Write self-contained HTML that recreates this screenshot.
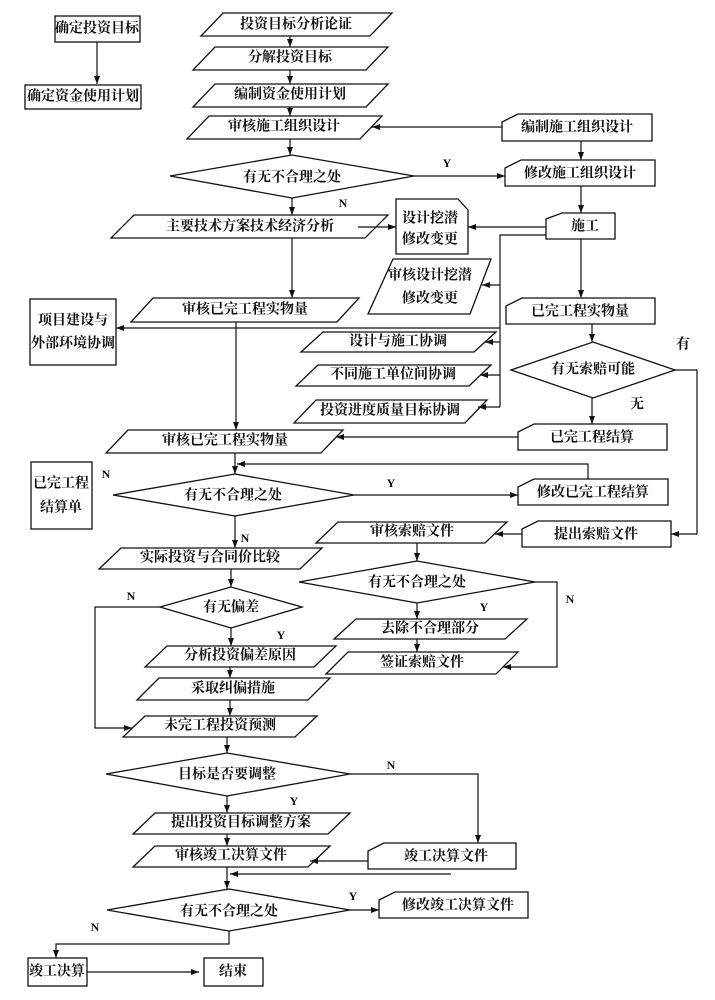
<!DOCTYPE html>
<html><head><meta charset="utf-8"><style>
html,body{margin:0;padding:0;background:#fff;}
svg{display:block;}
text{font-family:"Liberation Serif","Noto Serif CJK SC",serif;font-size:14px;font-weight:bold;fill:#111;}
.l{font-size:12px;}
</style></head><body>
<svg width="715" height="1000" viewBox="0 0 715 1000" xmlns="http://www.w3.org/2000/svg">
<defs><marker id="a" markerWidth="8" markerHeight="6" refX="8" refY="3" orient="auto" markerUnits="userSpaceOnUse"><path d="M0,0 L8,3 L0,6 Z" fill="#111"/></marker></defs>
<g fill="none" stroke="#111" stroke-width="1.3">
<!-- rects -->
<rect x="55" y="16" width="85" height="26"/>
<rect x="25" y="85" width="116" height="24"/>
<rect x="30" y="299" width="86" height="66"/>
<rect x="31" y="462" width="61" height="67"/>
<rect x="28" y="958" width="59" height="28"/>
<rect x="204" y="958" width="59" height="28"/>
<!-- parallelograms -->
<polygon points="223,13 392,13 370,36 201,36"/>
<polygon points="215,47 388,47 366,70 193,70"/>
<polygon points="215,84 388,84 366,107 193,107"/>
<polygon points="209,116 382,116 360,139 187,139"/>
<polygon points="134,215 388,215 365,238 111,238"/>
<polygon points="393,259 491,259 470,314 368,314"/>
<polygon points="153,298 359,298 337,322 131,322"/>
<polygon points="323,332 496,332 474,352 301,352"/>
<polygon points="318,365 491,365 469,386 296,386"/>
<polygon points="316,400 487,400 465,423 294,423"/>
<polygon points="128,430 343,430 321,453 106,453"/>
<polygon points="338,522 507,522 485,543 316,543"/>
<polygon points="121,548 322,548 300,569 99,569"/>
<polygon points="356,619 527,619 505,639 334,639"/>
<polygon points="348,652 518,652 496,674 326,674"/>
<polygon points="167,646 336,646 314,667 145,667"/>
<polygon points="159,678 330,678 308,700 137,700"/>
<polygon points="145,716 317,716 295,737 123,737"/>
<polygon points="155,813 350,813 328,834 133,834"/>
<polygon points="155,846 330,846 308,867 133,867"/>
<!-- cards -->
<path d="M518,114 H652 V141 H502 V122 Z"/>
<path d="M521,160 H655 V186 H505 V168 Z"/>
<path d="M562,213 H615 V239 H546 V219 Z"/>
<path d="M522,298 H655 V324 H506 V306 Z"/>
<path d="M534,424 H667 V450 H518 V432 Z"/>
<path d="M534,479 H668 V505 H518 V487 Z"/>
<path d="M538,521 H671 V547 H522 V529 Z"/>
<path d="M384,843 H516 V869 H368 V851 Z"/>
<path d="M395,892 H528 V918 H379 V900 Z"/>
<path d="M396,199 H458 L468,210 V254 H396 Z"/>
<!-- diamonds -->
<polygon points="170,176 292,155 414,176 292,198"/>
<polygon points="511,370 593,342 675,370 593,398"/>
<polygon points="113,495 235,474 354,495 235,516"/>
<polygon points="299,582 417,561 535,582 417,603"/>
<polygon points="160,607 231,587 302,607 231,628"/>
<polygon points="106,774 227,753 350,774 227,796"/>
<polygon points="107,910 229,889 350,910 229,931"/>
</g>
<g fill="none" stroke="#111" stroke-width="1.2" marker-end="url(#a)">
<path d="M97,42 V84"/>
<path d="M290,36 V47"/><path d="M290,70 V84"/><path d="M290,107 V116"/><path d="M290,139 V155"/>
<path d="M502,127 H372"/>
<path d="M581,141 V160"/>
<path d="M414,176 H505"/>
<path d="M581,186 V213"/>
<path d="M292,198 V215"/>
<path d="M358,227 H396"/>
<path d="M546,227 H468"/>
<path d="M292,238 V298"/>
<path d="M500,285 H482"/>
<path d="M500,342 H485"/>
<path d="M500,375 H480"/>
<path d="M500,407 H478"/>
<path d="M500,328 H116"/>
<path d="M236,322 V430"/>
<path d="M581,239 V298"/>
<path d="M592,324 V342"/>
<path d="M675,370 H697 V534 H671"/>
<path d="M592,398 V424"/>
<path d="M518,437 H336"/>
<path d="M235,453 V474"/>
<path d="M588,479 V464 H237"/>
<path d="M354,495 H518"/>
<path d="M235,516 V548"/>
<path d="M522,534 H495"/>
<path d="M417,543 V561"/>
<path d="M535,582 H557 V667 H503"/>
<path d="M417,603 V619"/><path d="M417,639 V652"/>
<path d="M231,569 V587"/>
<path d="M160,607 H95 V728 H132"/>
<path d="M231,628 V646"/><path d="M230,667 V678"/><path d="M230,700 V716"/>
<path d="M227,737 V753"/><path d="M227,796 V813"/><path d="M227,834 V846"/><path d="M227,867 V889"/>
<path d="M350,774 H478 V843"/>
<path d="M368,861 H310"/>
<path d="M451,874 H230"/>
<path d="M350,910 H379"/>
<path d="M229,931 V944 H56 V958"/>
<path d="M87,972 H199"/>
</g>
<path d="M546,235 H500 V407" fill="none" stroke="#111" stroke-width="1.2"/>
<g text-anchor="middle" dominant-baseline="central">
<text x="97" y="29">确定投资目标</text>
<text x="83" y="97">确定资金使用计划</text>
<text x="73" y="321">项目建设与</text>
<text x="73" y="344">外部环境协调</text>
<text x="61" y="484">已完工程</text>
<text x="61" y="508">结算单</text>
<text x="57" y="972">竣工决算</text>
<text x="233" y="972">结束</text>
<text x="296" y="25">投资目标分析论证</text>
<text x="290" y="58">分解投资目标</text>
<text x="290" y="95">编制资金使用计划</text>
<text x="284" y="127">审核施工组织设计</text>
<text x="250" y="227">主要技术方案技术经济分析</text>
<text x="430" y="276">审核设计挖潜</text>
<text x="430" y="299">修改变更</text>
<text x="245" y="310">审核已完工程实物量</text>
<text x="398" y="342">设计与施工协调</text>
<text x="393" y="375">不同施工单位间协调</text>
<text x="390" y="411">投资进度质量目标协调</text>
<text x="225" y="441">审核已完工程实物量</text>
<text x="412" y="532">审核索赔文件</text>
<text x="210" y="558">实际投资与合同价比较</text>
<text x="430" y="629">去除不合理部分</text>
<text x="422" y="663">签证索赔文件</text>
<text x="240" y="656">分析投资偏差原因</text>
<text x="233" y="689">采取纠偏措施</text>
<text x="220" y="726">未完工程投资预测</text>
<text x="241" y="823">提出投资目标调整方案</text>
<text x="231" y="856">审核竣工决算文件</text>
<text x="577" y="128">编制施工组织设计</text>
<text x="580" y="174">修改施工组织设计</text>
<text x="585" y="227">施工</text>
<text x="580" y="312">已完工程实物量</text>
<text x="592" y="438">已完工程结算</text>
<text x="593" y="493">修改已完工程结算</text>
<text x="596" y="535">提出索赔文件</text>
<text x="446" y="857">竣工决算文件</text>
<text x="458" y="906">修改竣工决算文件</text>
<text x="430" y="219">设计挖潜</text>
<text x="430" y="240">修改变更</text>
<text x="292" y="178">有无不合理之处</text>
<text x="593" y="370">有无索赔可能</text>
<text x="233" y="496">有无不合理之处</text>
<text x="417" y="583">有无不合理之处</text>
<text x="231" y="608">有无偏差</text>
<text x="227" y="775">目标是否要调整</text>
<text x="229" y="912">有无不合理之处</text>
<text class="l" x="447" y="163">Y</text>
<text class="l" x="343" y="203">N</text>
<text x="683" y="345">有</text>
<text x="637" y="405">无</text>
<text class="l" x="106" y="474">N</text>
<text class="l" x="391" y="483">Y</text>
<text class="l" x="245" y="538">N</text>
<text class="l" x="570" y="599">N</text>
<text class="l" x="484" y="607">Y</text>
<text class="l" x="131" y="596">N</text>
<text class="l" x="281" y="635">Y</text>
<text class="l" x="391" y="765">N</text>
<text class="l" x="294" y="801">Y</text>
<text class="l" x="353" y="896">Y</text>
<text class="l" x="95" y="927">N</text>
</g>
</svg>
</body></html>
